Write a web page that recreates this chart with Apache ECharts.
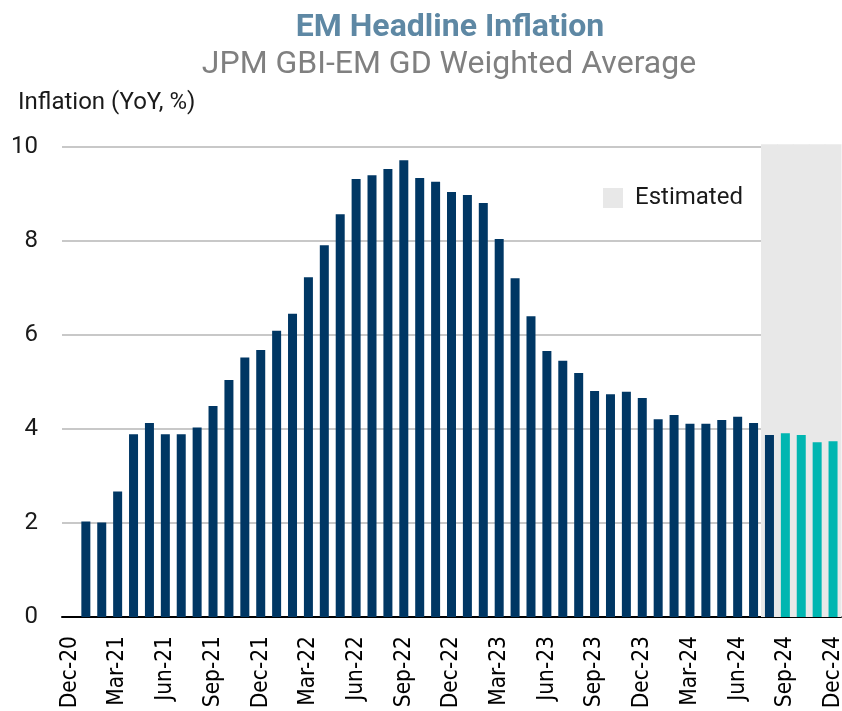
<!DOCTYPE html>
<html>
<head>
<meta charset="utf-8">
<script src="https://cdn.jsdelivr.net/npm/echarts@6/dist/echarts.min.js"></script>
<style>
  html, body { margin: 0; padding: 0; background: #fff; }
  #chart { width: 842px; height: 711px; }
</style>
</head>
<body>
<div id="chart"></div>
<script>
// monthly categories, Dec-20 .. Dec-24
var months = [
  'Dec-20', 'Jan-21', 'Feb-21', 'Mar-21', 'Apr-21', 'May-21', 'Jun-21', 'Jul-21', 'Aug-21', 'Sep-21', 'Oct-21', 'Nov-21', 'Dec-21',
  'Jan-22', 'Feb-22', 'Mar-22', 'Apr-22', 'May-22', 'Jun-22', 'Jul-22', 'Aug-22', 'Sep-22', 'Oct-22', 'Nov-22', 'Dec-22',
  'Jan-23', 'Feb-23', 'Mar-23', 'Apr-23', 'May-23', 'Jun-23', 'Jul-23', 'Aug-23', 'Sep-23', 'Oct-23', 'Nov-23', 'Dec-23',
  'Jan-24', 'Feb-24', 'Mar-24', 'Apr-24', 'May-24', 'Jun-24', 'Jul-24', 'Aug-24', 'Sep-24', 'Oct-24', 'Nov-24', 'Dec-24'
];

// reported inflation (YoY, %)
var actual = [
  null, 2.03, 2.01, 2.67, 3.89, 4.13, 3.89, 3.89, 4.03, 4.49, 5.04, 5.52, 5.68,
  6.09, 6.45, 7.23, 7.91, 8.57, 9.32, 9.40, 9.53, 9.72, 9.34, 9.26, 9.04,
  8.98, 8.81, 8.04, 7.21, 6.40, 5.66, 5.45, 5.19, 4.81, 4.74, 4.79, 4.66,
  4.21, 4.30, 4.11, 4.11, 4.19, 4.26, 4.13, 3.87, null, null, null, null
];

// forecast values
var forecast = [
  null, null, null, null, null, null, null, null, null, null, null, null, null,
  null, null, null, null, null, null, null, null, null, null, null, null,
  null, null, null, null, null, null, null, null, null, null, null, null,
  null, null, null, null, null, null, null, null, 3.91, 3.87, 3.72, 3.74
];

// months inside the shaded "estimated" window
var estimatedMonths = ['Aug-24', 'Sep-24', 'Oct-24', 'Nov-24', 'Dec-24'];
var shadeTop = 10.06;

var chart = echarts.init(document.getElementById('chart'));

var option = {
  backgroundColor: '#fff',
  animation: false,
  title: [
    {
      text: 'EM Headline Inflation',
      left: 445, top: 7, textAlign: 'center',
      textStyle: { fontFamily: 'Roboto', fontWeight: 'bold', fontSize: 32, color: '#5e88a4' }
    },
    {
      text: 'JPM GBI-EM GD Weighted Average',
      left: 444, top: 44, textAlign: 'center',
      textStyle: { fontFamily: 'Roboto', fontWeight: 'normal', fontSize: 32, color: '#808080' }
    },
    {
      text: 'Inflation (YoY, %)',
      left: 13, top: 86,
      textStyle: { fontFamily: 'Roboto', fontWeight: 'normal', fontSize: 24, color: '#1a1a1a' }
    }
  ],
  legend: {
    data: ['Estimated'],
    left: 603, top: 186, padding: 0,
    icon: 'rect', itemWidth: 20, itemHeight: 20,
    textStyle: { fontFamily: 'Roboto', fontSize: 24, color: '#1a1a1a', padding: [0, 0, 0, 7] }
  },
  grid: { left: 62, right: 1, top: 147, bottom: 94, outerBoundsMode: 'none' },
  xAxis: {
    type: 'category',
    data: months,
    axisLine: { lineStyle: { color: '#000', width: 2 } },
    axisTick: { show: false },
    axisLabel: {
      interval: 2, rotate: 90, margin: 19,
      fontFamily: '"Liberation Sans Narrow", "DejaVu Sans Condensed", sans-serif', fontSize: 22.5, color: '#000'
    }
  },
  yAxis: {
    type: 'value',
    min: 0, max: 10, interval: 2,
    axisLine: { show: false },
    axisTick: { show: false },
    axisLabel: { fontFamily: 'Roboto', fontSize: 24, color: '#1a1a1a', margin: 24 },
    splitLine: { lineStyle: { color: '#c8c8c8', width: 2 } }
  },
  series: [
    {
      name: 'Estimated',
      type: 'custom',
      data: estimatedMonths.map(function (m) { return [m, shadeTop]; }),
      encode: { x: 0, y: 1 },
      itemStyle: { color: '#e8e8e8' },
      silent: true,
      clip: false,
      z: 1,
      renderItem: function (params, api) {
        var top = api.coord([api.value(0), api.value(1)]);
        var base = api.coord([api.value(0), 0]);
        var w = api.size([1, 0])[0];
        return {
          type: 'rect',
          shape: { x: top[0] - w / 2 - 0.5, y: top[1], width: w + 1, height: base[1] - top[1] },
          style: { fill: '#e8e8e8' }
        };
      }
    },
    {
      name: 'Actual',
      type: 'bar',
      stack: 'v',
      data: actual,
      barWidth: 9,
      itemStyle: { color: '#003764' },
      z: 3
    },
    {
      name: 'Forecast',
      type: 'bar',
      stack: 'v',
      data: forecast,
      barWidth: 9,
      itemStyle: { color: '#00b6b1' },
      z: 3
    }
  ]
};

chart.setOption(option);
</script>
</body>
</html>
